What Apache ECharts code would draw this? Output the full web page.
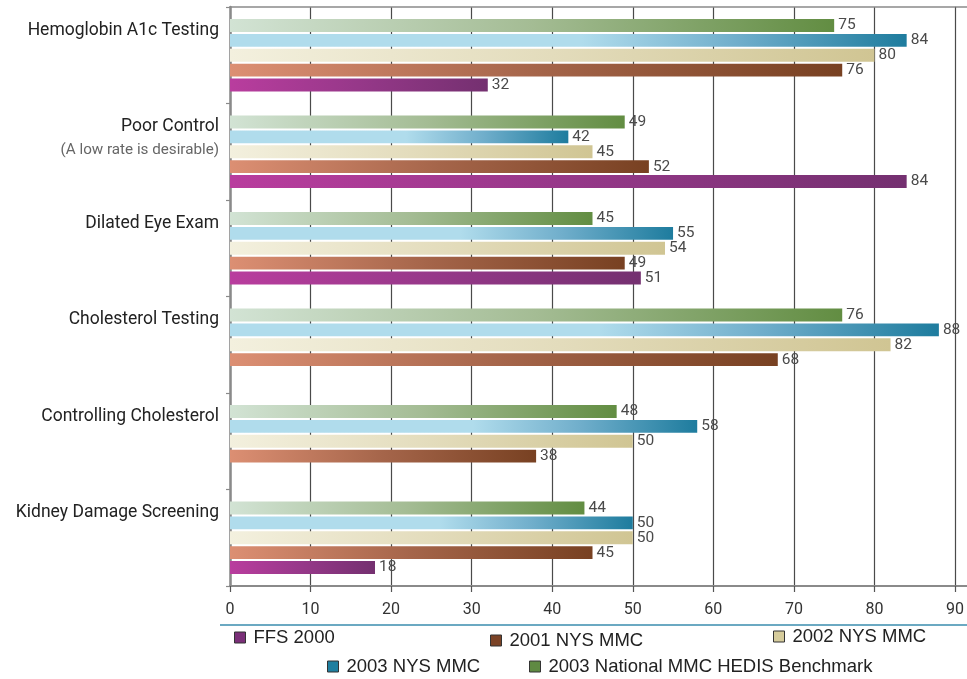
<!DOCTYPE html>
<html>
<head>
<meta charset="utf-8">
<script src="https://cdn.jsdelivr.net/npm/echarts@6/dist/echarts.min.js"></script>
<style>
html,body{margin:0;padding:0;background:#fff;}
#chart{width:967px;height:679px;}
</style>
</head>
<body>
<div id="chart"></div>
<script>
// Categories, top to bottom
var categories = ['Hemoglobin A1c Testing', 'Poor Control', 'Dilated Eye Exam', 'Cholesterol Testing', 'Controlling Cholesterol', 'Kidney Damage Screening'];
var categorySubLabels = ['', '(A low rate is desirable)', '', '', '', ''];

// Series values (same order as categories)
var ffs2000 = [32, 84, 51, null, null, 18];
var nys2001 = [76, 52, 49, 68, 38, 45];
var nys2002 = [80, 45, 54, 82, 50, 50];
var nys2003 = [84, 42, 55, 88, 58, 50];
var benchmark2003 = [75, 49, 45, 76, 48, 44];

var seriesNames = ['FFS 2000', '2001 NYS MMC', '2002 NYS MMC', '2003 NYS MMC', '2003 National MMC HEDIS Benchmark'];
var xMin = 0, xMax = 90, xStep = 10;

function grad(stops) {
  return {type: 'linear', x: 0, y: 0, x2: 1, y2: 0,
    colorStops: stops.map(function (s) { return {offset: s[0], color: s[1]}; })};
}
var fills = [
  grad([[0, '#b93d9e'], [0.5, '#963889'], [1, '#743070']]),
  grad([[0, '#dc8f73'], [0.5, '#a5654a'], [1, '#784122']]),
  grad([[0, '#f3f0de'], [0.5, '#e3dcbc'], [1, '#d0c593']]),
  grad([[0, '#b0dcec'], [0.52, '#b0dcec'], [0.75, '#70aecb'], [1, '#1e7c9e']]),
  grad([[0, '#d2e3d4'], [0.5, '#a4bc94'], [1, '#628d42']])
];
var legendColors = ['#7a2f78', '#7b4326', '#d6cc9c', '#1f7fa0', '#5f8a42'];
var dataSets = [ffs2000, nys2001, nys2002, nys2003, benchmark2003];

var labelFont = 'Roboto';
var series = dataSets.map(function (d, i) {
  return {
    name: seriesNames[i],
    type: 'bar',
    data: d,
    barCategoryGap: '25%',
    barGap: '16%',
    itemStyle: {color: fills[i]},
    label: {
      show: true, position: 'right', distance: 4,
      color: '#4a4a4a', fontSize: 15.5, fontFamily: labelFont
    },
    emphasis: {disabled: true}
  };
}).reverse(); // benchmark drawn at the top of each group

// legend layout: one legend per item
var legendPos = [
  {left: 234, top: 628},
  {left: 490, top: 631},
  {left: 773, top: 627},
  {left: 327, top: 657},
  {left: 529, top: 657}
];
var legends = seriesNames.map(function (n, i) {
  return {
    data: [{name: n, itemStyle: {color: legendColors[i], borderColor: '#333', borderWidth: 1}}],
    left: legendPos[i].left, top: legendPos[i].top,
    padding: 0, itemWidth: 11, itemHeight: 11, icon: 'rect',
    selectedMode: false,
    textStyle: {fontFamily: 'Liberation Sans', fontSize: 18.5, color: '#222', padding: [0, 0, 0, 3]}
  };
});

var chart = echarts.init(document.getElementById('chart'), null, {renderer: 'canvas'});
chart.setOption({
  animation: false,
  backgroundColor: '#fff',
  grid: {left: 230, right: 12, top: 7, bottom: 93},
  legend: legends,
  xAxis: [{
    type: 'value', min: xMin, max: xMax, interval: xStep,
    axisLine: {show: true, lineStyle: {color: '#8a8a8a', width: 2}},
    axisTick: {show: true, length: 6, lineStyle: {color: '#555', width: 1.2}},
    splitLine: {show: true, lineStyle: {color: '#4a4a4a', width: 1.2}},
    axisLabel: {margin: 16, color: '#333', fontSize: 16, fontFamily: labelFont}
  }, {
    type: 'value', position: 'top', min: xMin, max: xMax, interval: xStep,
    axisLine: {show: true, lineStyle: {color: '#8a8a8a', width: 1.5}},
    axisTick: {show: false}, axisLabel: {show: false}, splitLine: {show: false}
  }],
  yAxis: {
    type: 'category', data: categories, inverse: true,
    axisLine: {show: true, lineStyle: {color: '#8a8a8a', width: 2.5}},
    axisTick: {show: true, length: 4, lineStyle: {color: '#8a8a8a', width: 1.2}},
    axisLabel: {
      margin: 11, align: 'right', verticalAlign: 'middle',
      padding: [0, 0, 27, 0],
      formatter: function (v) {
        var i = categories.indexOf(v);
        var sub = categorySubLabels[i] || ' ';
        return '{a|' + v + '}\n{b|' + sub + '}';
      },
      rich: {
        a: {fontFamily: labelFont, fontSize: 17.5, color: '#222', lineHeight: 23, align: 'right'},
        b: {fontFamily: labelFont, fontSize: 15.2, color: '#666', lineHeight: 23, align: 'right'}
      }
    }
  },
  graphic: [{
    type: 'line', silent: true,
    shape: {x1: 220, y1: 625, x2: 967, y2: 625},
    style: {stroke: '#3a8cae', lineWidth: 1.5}
  }, {
    type: 'line', silent: true,
    shape: {x1: 955, y1: 7, x2: 967, y2: 7},
    style: {stroke: '#8a8a8a', lineWidth: 1.5}
  }, {
    type: 'line', silent: true,
    shape: {x1: 955, y1: 586, x2: 967, y2: 586},
    style: {stroke: '#8a8a8a', lineWidth: 2}
  }],
  series: series
});
</script>
</body>
</html>
